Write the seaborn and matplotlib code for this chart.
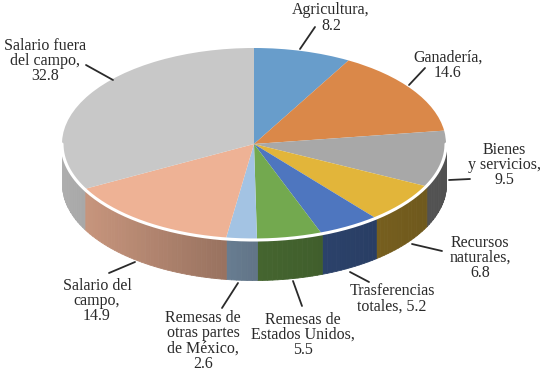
import numpy as np
import matplotlib
matplotlib.use("Agg")
import matplotlib.pyplot as plt
import seaborn as sns
from matplotlib.colors import to_rgb

# Ingreso por fuente (porcentaje)
labels = ["Agricultura,\n8.2", "Ganadería,\n14.6", "Bienes\ny servicios,\n9.5",
          "Recursos\nnaturales,\n6.8", "Trasferencias\ntotales, 5.2",
          "Remesas de\nEstados Unidos,\n5.5", "Remesas de\notras partes\nde México,\n2.6",
          "Salario del\ncampo,\n14.9", "Salario fuera\ndel campo,\n32.8"]
values = [8.2, 14.6, 9.5, 6.8, 5.2, 5.5, 2.6, 14.9, 32.8]
colors = ["#689dcb", "#da8849", "#a8a8a8", "#e2b53a", "#4e76bf",
          "#73a94f", "#a3c3e3", "#eeb295", "#c8c8c8"]

# label block centres and leader lines, in pixels
label_pos = [(331, 18), (448, 65), (504, 165), (480, 258), (392, 299),
             (303, 335), (203, 341), (97, 301), (45, 61)]
leaders = [((315, 27), (300, 49)), ((425, 68), (409, 85)), ((470, 179), (449, 180)),
           ((442, 251), (412, 244)), ((369, 282), (350, 272)), ((302, 306), (293, 281)),
           ((222, 308), (238, 283)), ((109, 273), (135, 262)), ((86, 65), (113, 80))]

W, H = 544, 377
cx, cy, a, b, depth = 254, 144, 192, 96, 40

sns.set_theme(style="white")
plt.rcParams["font.family"] = ["Liberation Serif", "DejaVu Serif"]

fig = plt.figure(figsize=(W / 100, H / 100), dpi=100)
ax = fig.add_axes([0, 0, 1, 1])

# side walls (front half only), shaded by angle
d = depth / b
frac = np.cumsum([0] + values) / sum(values)
starts = 90 - 360 * frac[:-1]
ends = 90 - 360 * frac[1:]
for c, t0, t1 in zip(colors, starts, ends):
    lo, hi = max(t1, -180), min(t0, 0)
    if lo >= hi:
        continue
    edges = np.linspace(lo, hi, max(2, int((hi - lo) / 1.5) + 1))
    base = np.array(to_rgb(c))
    for e0, e1 in zip(edges[:-1], edges[1:]):
        tm = np.radians((e0 + e1) / 2)
        cm = np.cos(tm)
        f = 0.6 - 0.27 * cm if cm < 0 else 0.6 - 0.12 * cm
        col = np.clip(base * f, 0, 1)
        tt = np.radians(np.linspace(e0, e1, 4))
        x = np.cos(tt)
        y = np.sin(tt)
        ax.fill_between(x, y - d, y, color=col, lw=0.6, ec=col, zorder=1)

wedges, _ = ax.pie(values, colors=colors, startangle=90, counterclock=False,
                   radius=1, center=(0, 0), wedgeprops=dict(linewidth=0))
for w in wedges:
    w.set_zorder(2)

# white rim along the front edge
tr = np.radians(np.linspace(-180, 0, 200))
ax.plot(np.cos(tr), np.sin(tr), color="white", lw=2.2, zorder=3,
        solid_capstyle="round")

ax.set_aspect("auto")
ax.set_xlim(-cx / a, (W - cx) / a)
ax.set_ylim(-(H - cy) / b, cy / b)
ax.axis("off")

# labels overlay in pixel space
lab = fig.add_axes([0, 0, 1, 1], zorder=5)
lab.set_xlim(0, W)
lab.set_ylim(H, 0)
lab.axis("off")
lab.patch.set_alpha(0)
for txt, (tx, ty), (p0, p1) in zip(labels, label_pos, leaders):
    lab.text(tx, ty, txt, ha="center", va="center", multialignment="center",
             fontsize=11.5, color="#2a2a2a", linespacing=0.92)
    lab.plot([p0[0], p1[0]], [p0[1], p1[1]], color="#2a2a2a", lw=1.3)

fig.savefig("out.png", dpi=100, facecolor="white")
